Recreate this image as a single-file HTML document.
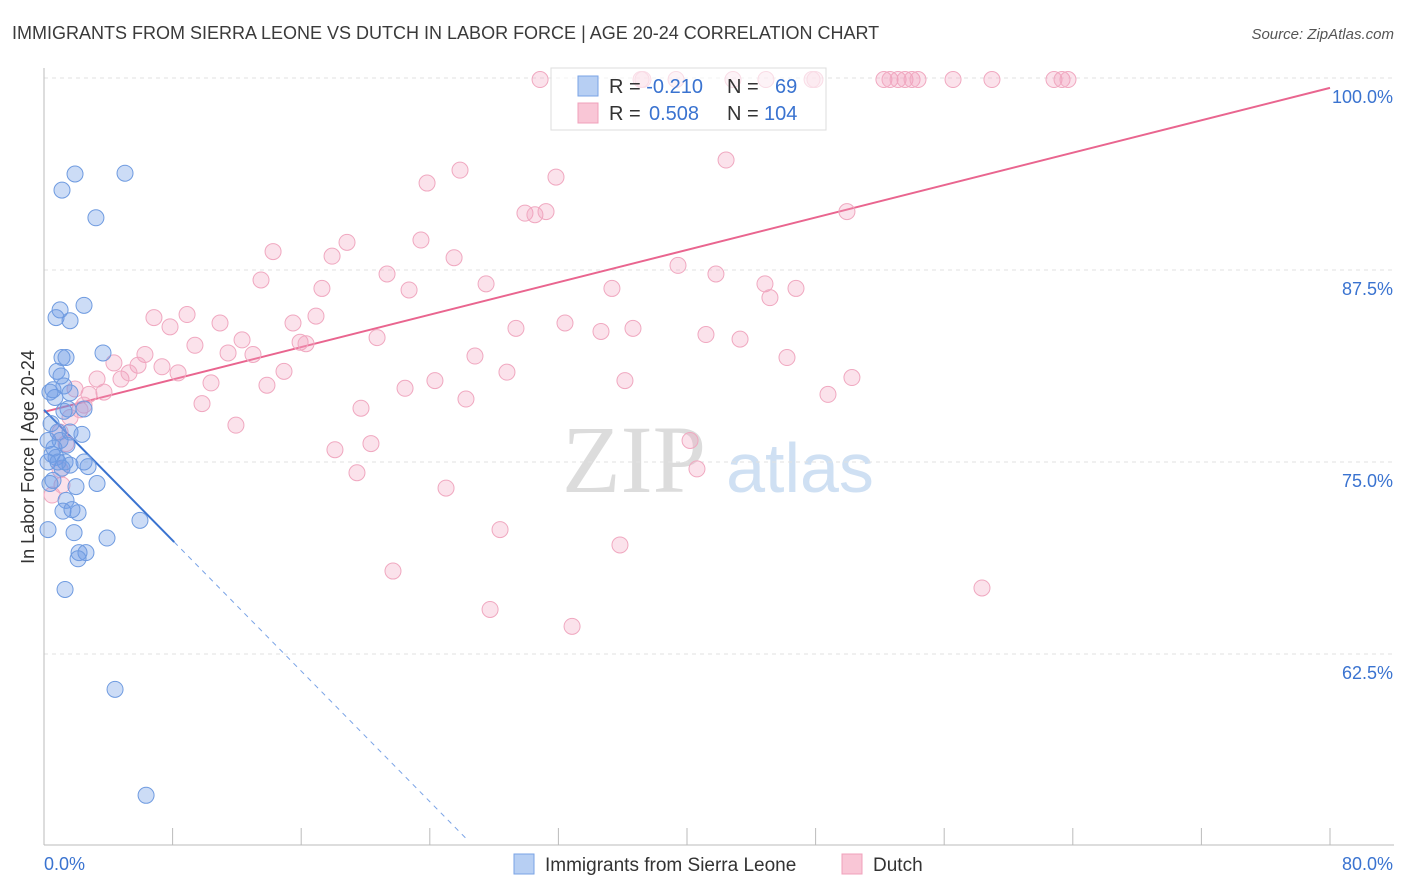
<!DOCTYPE html>
<html><head><meta charset="utf-8"><style>
body{margin:0;background:#fff;font-family:"Liberation Sans",sans-serif;}
svg{display:block}
</style></head><body>
<svg width="1406" height="892" id="chart">
<text x="12" y="39" font-size="18" fill="#3a3a3a">IMMIGRANTS FROM SIERRA LEONE VS DUTCH IN LABOR FORCE | AGE 20-24 CORRELATION CHART</text>
<text x="1394" y="39" font-size="15" fill="#555" font-style="italic" text-anchor="end">Source: ZipAtlas.com</text>
<text x="34" y="457" font-size="18" fill="#333" text-anchor="middle" transform="rotate(-90 34 457)">In Labor Force | Age 20-24</text>
<g>
<text x="634" y="492" font-size="96" fill="#dcdcdc" font-family="Liberation Serif,serif" text-anchor="middle">ZIP</text>
<text x="800" y="492" font-size="70" fill="#cfe0f3" text-anchor="middle">atlas</text>
</g>
<g id="grid"></g><g id="axes"></g><g id="trend"></g><g id="pts"></g>
<g>
<rect x="551" y="68" width="275" height="62" fill="rgba(255,255,255,0.6)" stroke="#ddd"/>
<rect x="578" y="76" width="20" height="20" fill="#b7cff3" stroke="#7aa3e6"/>
<rect x="578" y="103" width="20" height="20" fill="#f9c6d6" stroke="#f0a0bb"/>
<text x="609" y="93" font-size="20" fill="#333">R = <tspan fill="#3a73d0">-0.210</tspan><tspan x="727">N = </tspan><tspan fill="#3a73d0" x="775">69</tspan></text>
<text x="609" y="120" font-size="20" fill="#333">R = <tspan fill="#3a73d0" x="649">0.508</tspan><tspan x="727">N = </tspan><tspan fill="#3a73d0" x="764">104</tspan></text>
</g>
<g>
<rect x="514" y="854" width="20" height="20" fill="#b7cff3" stroke="#7aa3e6"/>
<text x="545" y="871" font-size="19" fill="#333">Immigrants from Sierra Leone</text>
<rect x="842" y="854" width="20" height="20" fill="#f9c6d6" stroke="#f0a0bb"/>
<text x="873" y="871" font-size="19" fill="#333">Dutch</text>
</g>
</svg>
<script>
const yTicks=[100,87.5,75,62.5];
const yTickLabels=["100.0%","87.5%","75.0%","62.5%"];
const xLabels=["0.0%","80.0%"];
const blueX=[1.93,5.04,1.12,3.23,2.49,1.0,0.75,1.62,3.67,1.12,1.37,0.81,1.06,1.24,0.56,1.62,0.68,1.49,2.49,1.24,0.44,0.87,1.62,2.36,1.0,1.43,0.5,0.75,1.31,0.25,2.49,2.74,1.12,1.62,0.56,3.3,1.99,1.37,1.18,2.12,1.74,5.97,0.25,1.87,3.92,2.18,2.61,2.12,1.31,4.42,6.35,0.37,0.25,0.62,0.87,0.37];
const blueY=[93.75,93.8,92.7,90.9,85.2,84.9,84.4,84.2,82.1,81.8,81.8,80.9,80.6,79.95,79.7,79.5,79.2,78.45,78.45,78.3,77.5,76.95,76.95,76.8,76.4,76.1,75.5,75.3,75.0,75.0,75.0,74.7,74.6,74.8,73.8,73.6,73.4,72.5,71.8,71.7,71.9,71.2,70.6,70.4,70.05,69.1,69.1,68.7,66.7,60.2,53.3,73.6,76.4,75.9,75.0,79.55];
const pinkX=[30.86,37.14,37.26,39.32,42.86,44.91,47.78,47.96,52.25,52.63,53.13,53.56,54.0,54.37,56.55,58.97,62.83,63.33,63.7,42.43,25.88,23.83,31.85,29.92,30.54,31.23,49.95,14.25,18.85,23.45,17.92,25.51,13.5,21.34,17.29,22.71,27.5,35.33,39.44,41.8,44.85,45.16,46.78,6.84,8.9,7.84,10.95,15.49,16.92,12.32,9.39,11.45,13.0,15.93,16.3,20.72,29.36,32.41,34.65,36.64,41.18,43.3,6.28,4.35,5.85,7.34,8.34,4.79,3.3,5.29,10.39,14.93,13.87,26.81,28.8,36.14,46.22,50.26,22.46,24.32,3.73,2.8,1.93,9.83,26.25,19.72,11.94,2.49,2.24,1.62,1.0,1.37,18.1,20.34,19.47,25.01,40.19,40.62,28.37,35.83,21.71,27.75,32.85,58.35,48.77,1.0,0.5,1.12];
const pinkY=[99.9,99.9,99.9,99.9,99.9,99.9,99.9,99.9,99.9,99.9,99.9,99.9,99.9,99.9,99.9,99.9,99.9,99.9,99.9,94.66,94.0,93.16,93.55,91.2,91.1,91.3,91.3,88.7,89.3,89.45,88.4,88.3,86.85,87.24,86.3,86.2,86.6,86.3,87.8,87.24,86.6,85.7,86.3,84.4,84.6,83.8,84.05,84.05,84.5,82.95,82.6,82.1,82.0,82.8,82.7,83.1,83.7,84.05,83.5,83.7,83.3,83.0,82.0,81.45,81.3,81.2,80.8,80.4,80.4,80.8,80.15,80.9,80.0,81.9,80.85,80.3,81.8,80.5,79.8,80.3,79.55,79.4,79.75,78.8,79.1,78.5,77.4,78.7,78.4,77.9,76.95,76.2,75.8,76.2,74.3,73.3,76.4,74.55,70.6,69.6,67.9,65.4,64.3,66.8,79.4,74.5,72.85,73.5];
const blueTrend=[78.4,-1.063];
const pinkTrend=[78.26,0.2637];
const NS="http://www.w3.org/2000/svg";
function sx(v){return 44+v*16.075;}
function sy(v){return 78+(100-v)*15.36;}
function mk(t,a,p){const e=document.createElementNS(NS,t);for(const k in a)e.setAttribute(k,a[k]);p.appendChild(e);return e;}
const grid=document.getElementById('grid'),axes=document.getElementById('axes'),trend=document.getElementById('trend'),pts=document.getElementById('pts');
yTicks.forEach((v,i)=>{
 const l=mk('line',{x1:44,x2:1394,y1:sy(v),y2:sy(v),stroke:'#e2e2e2','stroke-dasharray':'4,4'},grid);
 
 
 const t=mk('text',{x:1393,y:sy(v)+25,'font-size':18,fill:'#3a73d0','text-anchor':'end'},grid);t.textContent=yTickLabels[i];
 
 
});
mk('line',{x1:44,x2:44,y1:68,y2:845,stroke:'#bbb'},axes);
mk('line',{x1:44,x2:1394,y1:845,y2:845,stroke:'#bbb'},axes);
for(let i=0;i<=10;i++){const x=sx(i*8);mk('line',{x1:x,x2:x,y1:828,y2:845,stroke:'#bbb'},axes);}
const xl0=mk('text',{x:44,y:870,'font-size':18,fill:'#3a73d0'},axes);xl0.textContent=xLabels[0];


const xl1=mk('text',{x:1393,y:870,'font-size':18,fill:'#3a73d0','text-anchor':'end'},axes);xl1.textContent=xLabels[1];


function ty(tr,x){return tr[0]+tr[1]*x;}
const pl=mk('line',{x1:sx(0),y1:sy(ty(pinkTrend,0)),x2:sx(80),y2:sy(ty(pinkTrend,80)),stroke:'#e9658f','stroke-width':2},trend);


const bl=mk('line',{x1:sx(0),y1:sy(ty(blueTrend,0)),x2:sx(8.1),y2:sy(ty(blueTrend,8.1)),stroke:'#3a73d0','stroke-width':2},trend);


const bd=mk('line',{x1:sx(8.1),y1:sy(ty(blueTrend,8.1)),x2:sx(26.3),y2:sy(ty(blueTrend,26.3)),stroke:'#7aa3e6','stroke-width':1,'stroke-dasharray':'5,5'},trend);


pinkX.forEach((x,i)=>{const c=mk('circle',{cx:sx(x),cy:sy(pinkY[i]),r:8,fill:'rgba(243,160,188,0.3)',stroke:'#f0a8c0','stroke-width':1},pts);
 
 });
blueX.forEach((x,i)=>{const c=mk('circle',{cx:sx(x),cy:sy(blueY[i]),r:8,fill:'rgba(110,155,230,0.35)',stroke:'#6f9be0','stroke-width':1},pts);
 
 });
</script>
</body></html>
